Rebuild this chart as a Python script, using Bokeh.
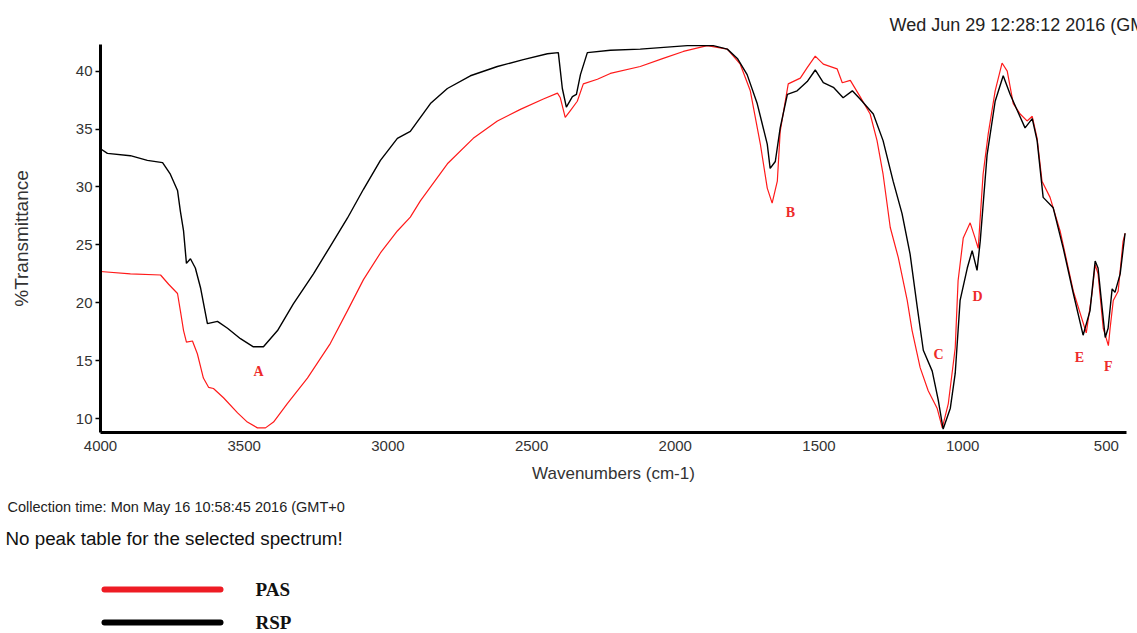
from bokeh.plotting import figure
from bokeh.layouts import column
from bokeh.models import Range1d, FixedTicker, ColumnDataSource, Title
from bokeh.core.properties import value
from bokeh.embed import file_html
from bokeh.resources import INLINE

# FTIR spectra (wavenumber in cm-1, %Transmittance)
rsp_wn = [4000, 3976, 3896, 3837, 3784, 3757, 3732, 3722, 3711, 3701, 3687, 3670, 3652,
          3628, 3593, 3558, 3513, 3468, 3433, 3384, 3329, 3259, 3200, 3141, 3085, 3026,
          2967, 2922, 2852, 2793, 2713, 2619, 2529, 2445, 2407, 2393, 2379, 2358, 2344,
          2330, 2306, 2226, 2122, 1958, 1868, 1819, 1784, 1750, 1715, 1680, 1670, 1652,
          1635, 1610, 1576, 1541, 1513, 1485, 1450, 1416, 1384, 1357, 1311, 1277, 1242,
          1211, 1183, 1158, 1137, 1106, 1085, 1068, 1043, 1026, 1009, 984, 967, 950, 939,
          915, 887, 859, 835, 810, 783, 758, 741, 720, 685, 650, 615, 581, 557, 539, 529,
          515, 504, 494, 480, 470, 452, 435]
rsp_t = [33.3, 32.9, 32.7, 32.3, 32.1, 31.1, 29.7, 27.9, 26.2, 23.4, 23.8, 23.0, 21.3,
         18.2, 18.4, 17.8, 16.9, 16.2, 16.2, 17.6, 19.9, 22.5, 24.9, 27.3, 29.8, 32.3,
         34.2, 34.8, 37.2, 38.5, 39.6, 40.4, 41.0, 41.5, 41.6, 38.5, 36.9, 37.8, 38.0,
         39.7, 41.6, 41.8, 41.9, 42.2, 42.2, 41.9, 41.1, 39.7, 37.2, 33.7, 31.6, 32.2,
         35.1, 38.0, 38.3, 39.1, 40.1, 39.0, 38.6, 37.7, 38.3, 37.6, 36.3, 34.0, 30.5,
         27.7, 24.2, 19.6, 15.9, 14.1, 11.6, 9.1, 10.9, 13.9, 20.2, 23.0, 24.5, 22.8, 25.3,
         32.8, 37.4, 39.6, 38.0, 36.6, 35.1, 35.9, 34.0, 29.1, 28.2, 24.7, 20.8, 17.2,
         19.3, 23.6, 23.0, 19.6, 17.0, 17.8, 21.2, 20.9, 22.5, 26.0]

pas_wn = [4000, 3896, 3791, 3763, 3732, 3722, 3711, 3701, 3680, 3663, 3642, 3624, 3607,
          3572, 3523, 3489, 3454, 3426, 3398, 3350, 3280, 3200, 3141, 3085, 3026, 2967,
          2922, 2887, 2793, 2703, 2619, 2539, 2459, 2410, 2400, 2383, 2365, 2341, 2320,
          2271, 2226, 2122, 2042, 1972, 1889, 1819, 1774, 1739, 1704, 1680, 1663, 1645,
          1635, 1607, 1565, 1541, 1513, 1485, 1437, 1419, 1391, 1357, 1322, 1298, 1277,
          1252, 1224, 1193, 1176, 1148, 1120, 1089, 1071, 1050, 1026, 1016, 998, 974, 957,
          946, 929, 911, 887, 863, 845, 824, 800, 776, 758, 741, 724, 696, 661, 615, 570,
          550, 539, 529, 511, 493, 487, 476, 459, 442, 435]
pas_t = [22.7, 22.5, 22.4, 21.6, 20.8, 19.3, 17.6, 16.6, 16.7, 15.6, 13.5, 12.7, 12.6,
         11.8, 10.5, 9.7, 9.2, 9.2, 9.7, 11.3, 13.5, 16.5, 19.3, 22.0, 24.3, 26.2,
         27.4, 28.8, 32.0, 34.2, 35.7, 36.7, 37.6, 38.1, 37.7, 36.0, 36.6, 37.4, 38.9,
         39.3, 39.8, 40.4, 41.1, 41.7, 42.2, 41.9, 40.6, 38.3, 33.7, 29.9, 28.6, 30.5,
         34.8, 38.9, 39.4, 40.3, 41.3, 40.6, 40.2, 39.0, 39.2, 37.8, 36.3, 34.0, 31.1,
         26.5, 23.9, 20.2, 17.6, 14.4, 12.4, 10.9, 9.2, 11.3, 16.1, 21.9, 25.6, 26.9, 25.6,
         24.7, 31.1, 34.6, 38.3, 40.7, 40.0, 37.2, 36.3, 35.7, 36.1, 34.2, 30.5, 29.1,
         26.2, 21.0, 17.4, 20.8, 23.3, 22.5, 17.8, 16.3, 17.8, 20.2, 21.0, 25.3, 26.0]

# Band labels
peak_names = ["A", "B", "C", "D", "E", "F"]
peak_wn = [3450, 1599, 1084, 948, 594, 493]
peak_t = [14.1, 27.8, 15.5, 20.5, 15.3, 14.5]

x_ticks = [4000, 3500, 3000, 2500, 2000, 1500, 1000, 500]
y_ticks = [10, 15, 20, 25, 30, 35, 40]

series_names = ["PAS", "RSP"]
series_colors = ["#ee1c24", "#000000"]

SANS = "Liberation Sans"
SERIF = "Liberation Serif"
W = 1137
FRAME_LEFT, FRAME_RIGHT = 100, 11
MAIN_H = 560

p = figure(width=W, height=MAIN_H, x_range=Range1d(4000, 430), y_range=Range1d(8.8, 42.3),
           output_backend="svg", toolbar_location=None,
           min_border_left=FRAME_LEFT, min_border_right=FRAME_RIGHT, min_border_top=44,
           min_border_bottom=MAIN_H - 432, outline_line_color=None)
p.grid.visible = False

p.line(pas_wn, pas_t, line_color="#ff1a1a", line_width=1.2)
p.line(rsp_wn, rsp_t, line_color="#000000", line_width=1.4)

src = ColumnDataSource(dict(x=peak_wn, y=peak_t, t=peak_names))
p.text(x="x", y="y", text="t", source=src, text_font=value(SERIF), text_font_style="bold",
       text_font_size="14px", text_color="#ee2a2a", text_align="center",
       text_baseline="middle")

p.xaxis.ticker = FixedTicker(ticks=x_ticks)
p.yaxis.ticker = FixedTicker(ticks=y_ticks)
for ax in (p.xaxis[0], p.yaxis[0]):
    ax.axis_line_width = 3
    ax.axis_line_color = "#000000"
    ax.major_label_text_font = SANS
    ax.major_label_text_font_size = "15px"
    ax.major_label_text_color = "#333333"
    ax.axis_label_text_font = SANS
    ax.axis_label_text_font_style = "normal"
    ax.axis_label_text_color = "#333333"
    ax.minor_tick_line_color = None

p.xaxis.major_tick_out = 0
p.xaxis.major_tick_in = 0
p.xaxis.major_label_standoff = 8
p.xaxis.axis_label = "Wavenumbers (cm-1)"
p.xaxis.axis_label_text_font_size = "17px"
p.xaxis.axis_label_standoff = 10

p.yaxis.major_tick_out = 5
p.yaxis.major_tick_in = 0
p.yaxis.major_tick_line_width = 1.5
p.yaxis.major_label_standoff = 3
p.yaxis.axis_label = "%Transmittance"
p.yaxis.axis_label_text_font_size = "19px"
p.yaxis.axis_label_standoff = 41

# header: report date (top right)
p.add_layout(Title(text="Wed Jun 29 12:28:12 2016 (GMT+0", align="left",
                   offset=889 - FRAME_LEFT, standoff=20, text_font=SANS,
                   text_font_size="18px", text_font_style="normal",
                   text_color="#222222"), "above")

# footer texts
p.add_layout(Title(text="Collection time: Mon May 16 10:58:45 2016 (GMT+0", align="left",
                   offset=7 - FRAME_LEFT, standoff=22, text_font=SANS,
                   text_font_size="14.5px", text_font_style="normal",
                   text_color="#222222"), "below")
p.add_layout(Title(text="No peak table for the selected spectrum!", align="left",
                   offset=5 - FRAME_LEFT, standoff=0, text_font=SANS,
                   text_font_size="18.8px", text_font_style="normal",
                   text_color="#111111"), "below")

# key for the two spectra, drawn in page pixels below the spectrum plot
KEY_H = 633 - MAIN_H
key = figure(width=W, height=KEY_H, x_range=Range1d(FRAME_LEFT, W - FRAME_RIGHT),
             y_range=Range1d(633, MAIN_H), output_backend="svg", toolbar_location=None,
             min_border_left=FRAME_LEFT, min_border_right=FRAME_RIGHT, min_border_top=0,
             min_border_bottom=0, outline_line_color=None,
             x_axis_location=None, y_axis_location=None)
key.grid.visible = False
key_y = [589, 622]
for name, color, ky in zip(series_names, series_colors, key_y):
    key.line([104, 220], [ky, ky], line_color=color, line_width=6, line_cap="round")
    key.text(x=[255], y=[ky], text=[name], text_font=value(SERIF), text_font_style="bold",
             text_font_size="19px", text_color="#111111", text_baseline="middle")

open("out.html", "w").write(file_html(column(p, key, spacing=0), INLINE))
